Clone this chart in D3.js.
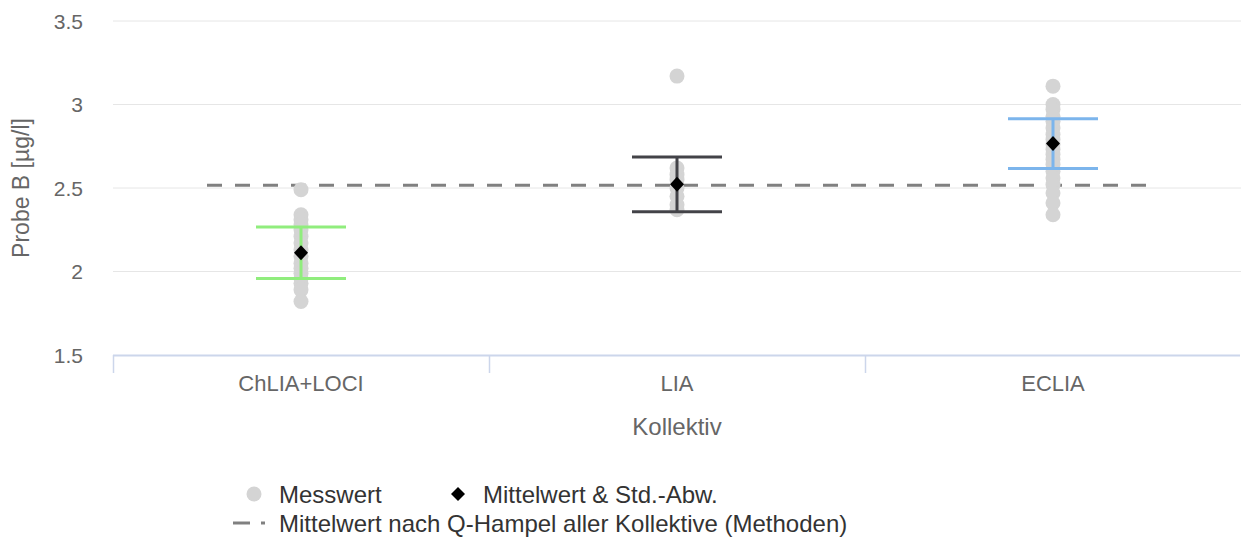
<!DOCTYPE html>
<html><head><meta charset="utf-8">
<script src="https://cdn.jsdelivr.net/npm/d3@7"></script>
<style>
html,body{margin:0;padding:0;background:#fff;}
svg{display:block;font-family:"Liberation Sans",Arial,Helvetica,sans-serif;}
</style></head>
<body><svg id="c" width="1241" height="541"></svg>
<script>
const categories = ["ChLIA+LOCI", "LIA", "ECLIA"];
const valuesChLIA = [2.49, 2.34, 2.31, 2.28, 2.25, 2.21, 2.17, 2.13, 2.09, 2.05, 2.02, 1.99, 1.96, 1.93, 1.89, 1.82];
const valuesLIA = [3.17, 2.62, 2.58, 2.55, 2.50, 2.45, 2.40, 2.37];
const valuesECLIA = [3.11, 3.00, 2.97, 2.93, 2.90, 2.86, 2.82, 2.79, 2.76, 2.73, 2.70, 2.67, 2.64, 2.60, 2.56, 2.52, 2.47, 2.41, 2.34];
const means = [2.112, 2.522, 2.766];
const stdDevs = [0.154, 0.164, 0.149];
const hampelMean = 2.516;
const yTicks = [1.5, 2, 2.5, 3, 3.5];
const errColors = ["#90ed7d", "#434348", "#7cb5ec"];
const allValues = [valuesChLIA, valuesLIA, valuesECLIA];

const svg = d3.select("#c");
const pL = 113, pR = 1241, pT = 21, pB = 355;
const x = d3.scaleBand().domain(categories).range([pL, pR]);
const y = d3.scaleLinear().domain([1.5, 3.5]).range([pB, pT]);

// grid
svg.append("g").selectAll("line").data(yTicks.filter(t => t > 1.5)).join("line")
  .attr("x1", pL).attr("x2", pR).attr("y1", d => y(d)).attr("y2", d => y(d))
  .attr("stroke", "#e6e6e6").attr("stroke-width", 1);

// y labels
svg.append("g").selectAll("text").data(yTicks).join("text")
  .attr("x", 83).attr("y", d => y(d)).attr("dy", "0.36em")
  .attr("text-anchor", "end").attr("fill", "#666").attr("font-size", 21)
  .text(d => d);

svg.append("text").attr("transform", `translate(29,${(pT+pB)/2}) rotate(-90)`)
  .attr("text-anchor", "middle").attr("fill", "#666").attr("font-size", 23)
  .text("Probe B [µg/l]");

// x axis
svg.append("line").attr("x1", pL).attr("x2", pR - 1).attr("y1", pB + 0.5).attr("y2", pB + 0.5)
  .attr("stroke", "#ccd6eb").attr("stroke-width", 2);
const bounds = categories.map(c => x(c));
svg.append("g").selectAll("line").data(bounds).join("line")
  .attr("x1", d => d + 0.5).attr("x2", d => d + 0.5).attr("y1", pB).attr("y2", pB + 18)
  .attr("stroke", "#ccd6eb").attr("stroke-width", 1.5);
svg.append("g").selectAll("text").data(categories).join("text")
  .attr("x", d => x(d) + x.bandwidth() / 2).attr("y", 391)
  .attr("text-anchor", "middle").attr("fill", "#666").attr("font-size", 22)
  .text(d => d);
svg.append("text").attr("x", (pL + pR) / 2).attr("y", 435)
  .attr("text-anchor", "middle").attr("fill", "#666").attr("font-size", 24)
  .text("Kollektiv");

// Hampel dashed line
const bw = x.bandwidth();
svg.append("line")
  .attr("x1", x(categories[0]) + bw / 2 - bw / 4)
  .attr("x2", x(categories[2]) + bw / 2 + bw / 4)
  .attr("y1", y(hampelMean)).attr("y2", y(hampelMean))
  .attr("stroke", "#808080").attr("stroke-width", 3).attr("stroke-dasharray", "15,13");

// points
categories.forEach((c, i) => {
  const cx = x(c) + bw / 2;
  svg.append("g").selectAll("circle").data(allValues[i]).join("circle")
    .attr("cx", cx).attr("cy", d => y(d)).attr("r", 7.5).attr("fill", "#d4d4d4");
});

// error bars
categories.forEach((c, i) => {
  const cx = x(c) + bw / 2;
  const g = svg.append("g").attr("stroke", errColors[i]).attr("stroke-width", 3);
  const hi = y(means[i] + stdDevs[i]), lo = y(means[i] - stdDevs[i]);
  g.append("line").attr("x1", cx).attr("x2", cx).attr("y1", hi).attr("y2", lo);
  g.append("line").attr("x1", cx - 45).attr("x2", cx + 45).attr("y1", hi).attr("y2", hi);
  g.append("line").attr("x1", cx - 45).attr("x2", cx + 45).attr("y1", lo).attr("y2", lo);
});

// means (diamonds)
const diamond = (cx, cy, w, h) => `M${cx},${cy-h}L${cx+w},${cy}L${cx},${cy+h}L${cx-w},${cy}Z`;
categories.forEach((c, i) => {
  const cx = x(c) + bw / 2;
  svg.append("path").attr("d", diamond(cx, y(means[i]), 7, 7.5)).attr("fill", "#000");
});

// legend
const lg = svg.append("g");
lg.append("circle").attr("cx", 254).attr("cy", 494).attr("r", 7.5).attr("fill", "#d4d4d4");
lg.append("text").attr("x", 279).attr("y", 494).attr("dy", "0.36em").attr("font-size", 24).attr("fill", "#333").text("Messwert");
lg.append("path").attr("d", diamond(458, 494, 7, 7)).attr("fill", "#000");
lg.append("text").attr("x", 483).attr("y", 494).attr("dy", "0.36em").attr("font-size", 24).attr("fill", "#333").text("Mittelwert & Std.-Abw.");
lg.append("line").attr("x1", 233).attr("x2", 250).attr("y1", 523).attr("y2", 523).attr("stroke", "#808080").attr("stroke-width", 3);
lg.append("line").attr("x1", 261).attr("x2", 265).attr("y1", 523).attr("y2", 523).attr("stroke", "#808080").attr("stroke-width", 3);
lg.append("text").attr("x", 279).attr("y", 523).attr("dy", "0.36em").attr("font-size", 24).attr("fill", "#333").text("Mittelwert nach Q-Hampel aller Kollektive (Methoden)");
</script></body></html>
